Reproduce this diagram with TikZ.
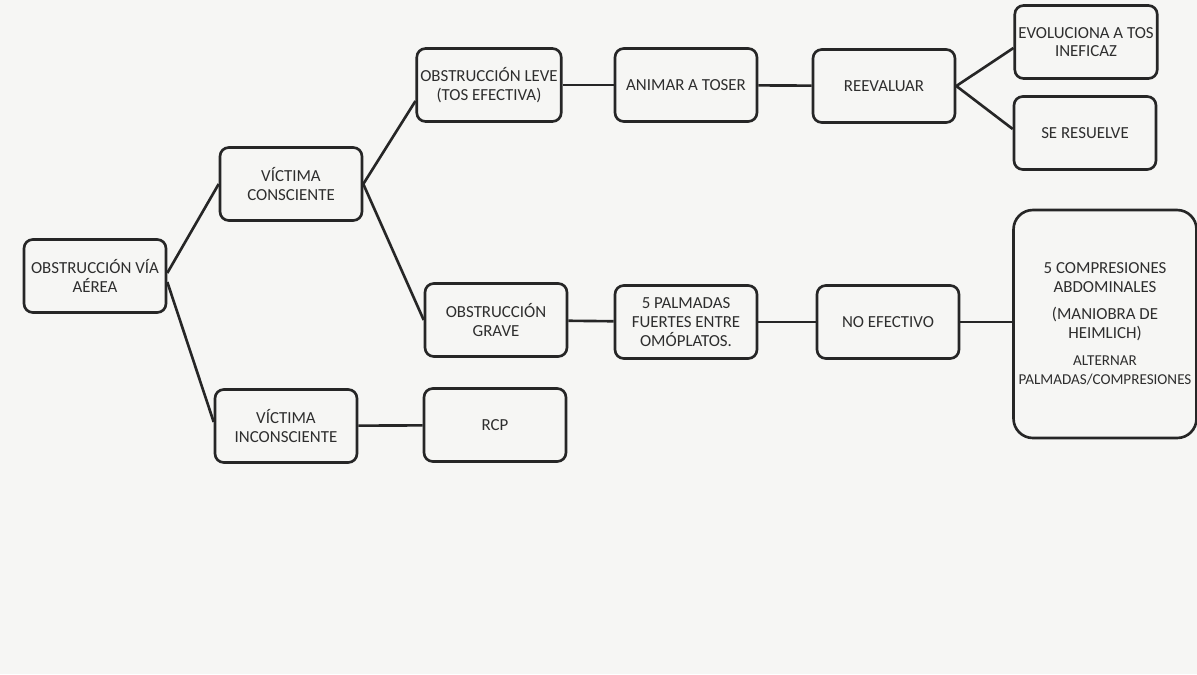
\documentclass[tikz,border=0pt]{standalone}
\usepackage{fontspec}
\setmainfont{Carlito}
\usepackage{tikz}
\usepackage{xcolor}
\usetikzlibrary{positioning,calc}
\definecolor{paper}{HTML}{F6F6F4}
\definecolor{ink}{HTML}{262626}
\definecolor{txt}{HTML}{2E2E2E}
\tikzset{
  stepbox/.style={draw=ink,line width=1.5pt,rounded corners=5pt,
                  minimum width=2.84cm,minimum height=1.46cm,
                  align=center,text=txt,inner sep=2pt,
                  font=\fontsize{9.6}{10.6}\selectfont},
  bigbox/.style={stepbox,rounded corners=11pt,
                 minimum width=3.66cm,minimum height=4.56cm},
  link/.style={draw=ink,line width=1.5pt}
}

\begin{document}
\begin{tikzpicture}[x=0.02cm,y=-0.02cm]
  \fill[paper] (0,0) rectangle (1197,674);
  \useasboundingbox (0,0) rectangle (1197,674);

  % left column
  \node[stepbox] (obst) at (95,276) {OBSTRUCCIÓN VÍA\\AÉREA};
  \node[stepbox] (vcons) at (291,184) {VÍCTIMA\\CONSCIENTE};
  \node[stepbox] (vincons) at (286,426) {VÍCTIMA\\INCONSCIENTE};

  % middle
  \node[stepbox] (leve) at (489,85) {OBSTRUCCIÓN LEVE\\(TOS EFECTIVA)};
  \node[stepbox] (animar) at (686,85) {ANIMAR A TOSER};
  \node[stepbox] (reeval) at (884,86) {REEVALUAR};
  \node[stepbox] (grave) at (496,320) {OBSTRUCCIÓN\\GRAVE};
  \node[stepbox] (palmadas) at (686,322) {5 PALMADAS\\FUERTES ENTRE\\OMÓPLATOS.};
  \node[stepbox] (noefect) at (888,322) {NO EFECTIVO};
  \node[stepbox] (rcp) at (495,425) {RCP};

  % right column
  \node[stepbox] (evol) at (1086,42) {EVOLUCIONA A TOS\\INEFICAZ};
  \node[stepbox] (seres) at (1085,133) {SE RESUELVE};
  \node[bigbox] (compr) at (1105,324) {%
    5 COMPRESIONES\\ABDOMINALES\\[5pt]
    (MANIOBRA DE\\HEIMLICH)\\[5pt]
    {\fontsize{8.6}{10}\selectfont ALTERNAR}\\
    {\fontsize{8.6}{10}\selectfont PALMADAS/COMPRESIONES}};

  \draw[link] ($(obst.east)+(0,-3)$) -- (vcons.west);
  \draw[link] ($(obst.east)+(0,6)$) -- ($(vincons.west)+(0,-4)$);
  \draw[link] (vcons.east) -- ($(leve.west)+(0,16)$);
  \draw[link] (vcons.east) -- (grave.west);
  \draw[link] (leve) -- (animar);
  \draw[link] (animar) -- (reeval);
  \draw[link] (reeval.east) -- ($(evol.west)+(0,6)$);
  \draw[link] (reeval.east) -- ($(seres.west)+(0,-4)$);
  \draw[link] (grave) -- (palmadas);
  \draw[link] (palmadas) -- (noefect);
  \draw[link] (noefect) -- (compr.west |- noefect);
  \draw[link] (vincons) -- (rcp);
\end{tikzpicture}
\end{document}
